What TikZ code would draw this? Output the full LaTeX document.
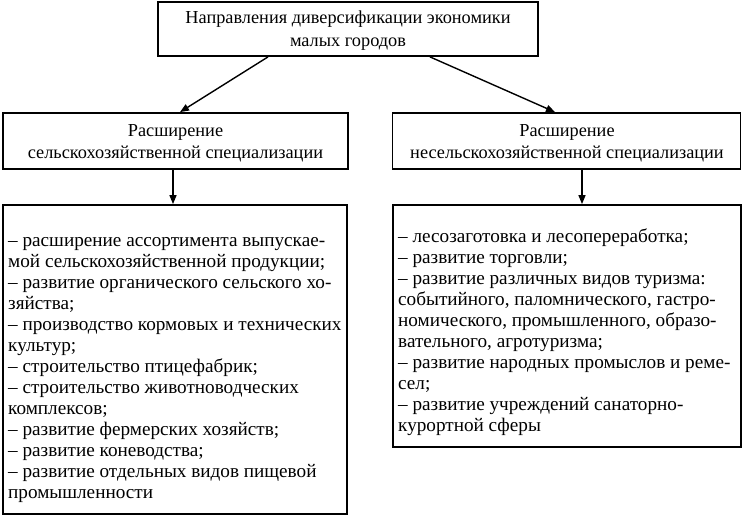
\documentclass[tikz,border=0pt]{standalone}
\usepackage{fontspec}
\setmainfont{Liberation Serif}
\usetikzlibrary{arrows.meta}
\begin{document}
\begin{tikzpicture}[x=1pt,y=-1pt,
  box/.style={draw,line width=1.8pt,rectangle,inner sep=0pt},
  lbl/.style={inner sep=0pt,align=center,font=\fontsize{18.3}{22.5}\selectfont},
  arr/.style={line width=1.4pt,-{Triangle[length=9pt,width=7pt]}},
  listtext/.style={anchor=north west,inner sep=0pt,align=left,font=\fontsize{19.2}{21}\selectfont}]
\useasboundingbox (0,0) rectangle (743,518);
\node[box,minimum width=380pt,minimum height=54pt] (top) at (348,29) {};
\node[lbl] (toplbl) at (348,30.5)
  {Направления диверсификации экономики\\малых городов};
\node[box,minimum width=345pt,minimum height=56pt] (lmid) at (175.5,141) {};
\node[lbl] (lmidlbl) at (175.5,143.5) {Расширение\\сельскохозяйственной специализации};
\node[box,minimum width=348pt,minimum height=56pt] (rmid) at (566.5,141) {};
\node[lbl] (rmidlbl) at (567,143.5) {Расширение\\несельскохозяйственной специализации};
\node[box,minimum width=344pt,minimum height=309pt] (lbot) at (175,359.5) {};
\node[box,minimum width=348pt,minimum height=242pt] (rbot) at (567,326) {};
\node[listtext] (ltext) at (8,237) {
– расширение ассортимента выпускае-\\мой сельскохозяйственной продукции;\\
– развитие органического сельского хо-\\зяйства;\\
– производство кормовых и технических\\культур;\\
– строительство птицефабрик;\\
– строительство животноводческих\\комплексов;\\
– развитие фермерских хозяйств;\\
– развитие коневодства;\\
– развитие отдельных видов пищевой\\промышленности};
\node[listtext] (rtext) at (398,229) {
– лесозаготовка и лесопереработка;\\
– развитие торговли;\\
– развитие различных видов туризма:\\событийного, паломнического, гастро-\\номического, промышленного, образо-\\вательного, агротуризма;\\
– развитие народных промыслов и реме-\\сел;\\
– развитие учреждений санаторно-\\курортной сферы};
\draw[arr] (top.south -| 268,0) -- (lmid.north -| 180,0);
\draw[arr] (top.south -| 430,0) -- (rmid.north -| 555,0);
\draw[arr] (lmid.south -| 173,0) -- (lbot.north -| 173,0);
\draw[arr] (rmid.south -| 582,0) -- (rbot.north -| 582,0);
\end{tikzpicture}
\end{document}
